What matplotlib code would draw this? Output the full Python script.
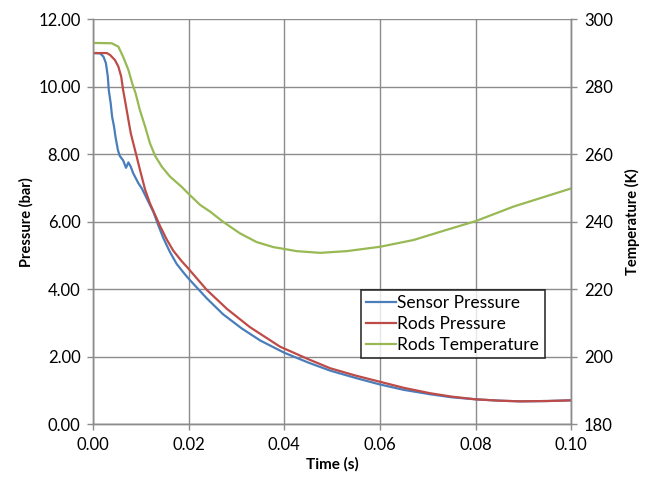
import matplotlib
matplotlib.use("Agg")
import matplotlib.pyplot as plt
from matplotlib.ticker import FormatStrFormatter

plt.rcParams['font.family'] = ['Lato', 'DejaVu Sans']

# Sensor pressure (bar)
t_sensor = [0.0, 0.0015, 0.0022, 0.0027, 0.0031, 0.0033, 0.0037, 0.0040, 0.0044, 0.0047,
            0.0052, 0.0056, 0.0063, 0.0069, 0.0074, 0.0079, 0.0084, 0.0095, 0.0102, 0.0109,
            0.0119, 0.0126, 0.0137, 0.0147, 0.0161, 0.0175, 0.0189, 0.0199, 0.0238, 0.0272,
            0.0311, 0.0350, 0.0400, 0.0450, 0.0496, 0.0550, 0.0600, 0.0650, 0.0705, 0.0750,
            0.0800, 0.0850, 0.0893, 0.0950, 0.1000]
p_sensor = [11.0, 10.99, 10.89, 10.70, 10.30, 9.90, 9.51, 9.11, 8.82, 8.52,
            8.13, 7.95, 7.82, 7.60, 7.76, 7.63, 7.44, 7.14, 6.99, 6.79,
            6.50, 6.30, 5.88, 5.52, 5.10, 4.75, 4.50, 4.33, 3.73, 3.26,
            2.84, 2.48, 2.12, 1.83, 1.59, 1.37, 1.18, 1.02, 0.89, 0.80,
            0.74, 0.70, 0.68, 0.69, 0.71]

# Rods pressure (bar)
t_rods = [0.0, 0.0029, 0.0036, 0.0046, 0.0053, 0.0059, 0.0063, 0.0068, 0.0074, 0.0079,
          0.0086, 0.0091, 0.0098, 0.0109, 0.0119, 0.0130, 0.0140, 0.0154, 0.0168, 0.0185,
          0.0199, 0.0238, 0.0280, 0.0328, 0.0391, 0.0450, 0.0496, 0.0550, 0.0600, 0.0650,
          0.0705, 0.0750, 0.0800, 0.0850, 0.0893, 0.0950, 0.1000]
p_rods = [11.0, 11.0, 10.94, 10.79, 10.60, 10.30, 9.90, 9.51, 9.02, 8.62,
          8.23, 7.95, 7.55, 6.95, 6.55, 6.20, 5.88, 5.48, 5.14, 4.84,
          4.62, 3.98, 3.42, 2.88, 2.30, 1.93, 1.66, 1.44, 1.26, 1.08,
          0.92, 0.82, 0.74, 0.70, 0.68, 0.69, 0.71]

# Rods temperature (K)
t_temp = [0.0, 0.0039, 0.0053, 0.0063, 0.0074, 0.0082, 0.0089, 0.0098, 0.0109, 0.0119,
          0.0130, 0.0144, 0.0161, 0.0185, 0.0199, 0.0224, 0.0245, 0.0272, 0.0307, 0.0342,
          0.0377, 0.0398, 0.0426, 0.0475, 0.0530, 0.0600, 0.0670, 0.0739, 0.0800, 0.0879,
          0.1000]
T_rods = [293.0, 292.9, 291.9, 288.9, 285.0, 281.0, 278.1, 273.1, 268.2, 263.3,
          259.5, 256.3, 253.4, 250.4, 248.4, 245.0, 243.0, 240.0, 236.6, 234.0,
          232.5, 232.0, 231.3, 230.8, 231.3, 232.6, 234.6, 237.6, 240.2, 244.5,
          249.9]

x_ticks = [0.0, 0.02, 0.04, 0.06, 0.08, 0.10]
p_ticks = [0, 2, 4, 6, 8, 10, 12]
T_ticks = [180, 200, 220, 240, 260, 280, 300]

c_blue = '#4A7EBB'
c_red = '#BE4B48'
c_green = '#98B954'
grid_c = '#8C8C8C'

fig = plt.figure(figsize=(6.46, 4.84), dpi=100)
ax = fig.add_axes([93/646, 1-424.3/484, (571.3-93)/646, (424.3-19.3)/484])
ax2 = ax.twinx()

l1, = ax.plot(t_sensor, p_sensor, color=c_blue, lw=1.6, label='Sensor Pressure')
l2, = ax.plot(t_rods, p_rods, color=c_red, lw=1.6, label='Rods Pressure')
l3, = ax2.plot(t_temp, T_rods, color=c_green, lw=1.6, label='Rods Temperature')

ax.set_xlim(0, 0.1)
ax.set_ylim(0, 12)
ax2.set_ylim(180, 300)
ax.set_xticks(x_ticks)
ax.set_yticks(p_ticks)
ax2.set_yticks(T_ticks)
ax.xaxis.set_major_formatter(FormatStrFormatter('%.2f'))
ax.yaxis.set_major_formatter(FormatStrFormatter('%.2f'))
ax2.yaxis.set_major_formatter(FormatStrFormatter('%d'))

ax.grid(True, color=grid_c, lw=1.0)
ax.set_axisbelow(True)
for a in (ax, ax2):
    for s in a.spines.values():
        s.set_color(grid_c)
        s.set_linewidth(1.0)
    a.tick_params(colors='black', labelsize=12, length=4, width=1.0, direction='out', pad=5)
    a.tick_params(axis='both', color=grid_c)
ax2.spines['top'].set_visible(False)
ax.spines['top'].set_visible(False)

ax.set_xlabel('Time (s)', fontsize=11, fontweight='bold', labelpad=3)
ax.set_ylabel('Pressure (bar)', fontsize=10.5, fontweight='bold', labelpad=3)
ax2.set_ylabel('Temperature (K)', fontsize=10.5, fontweight='bold', labelpad=9)

leg = fig.legend(handles=[l1, l2, l3], loc='upper left',
                 bbox_to_anchor=(361/646, 1-290/484), bbox_transform=fig.transFigure,
                 fontsize=12.5, frameon=True, fancybox=False, borderaxespad=0,
                 handlelength=1.7, handletextpad=0.1, borderpad=0.3, labelspacing=0.28)
leg.get_frame().set_edgecolor('black')
leg.get_frame().set_linewidth(1.2)

fig.savefig('out.png', dpi=100)
